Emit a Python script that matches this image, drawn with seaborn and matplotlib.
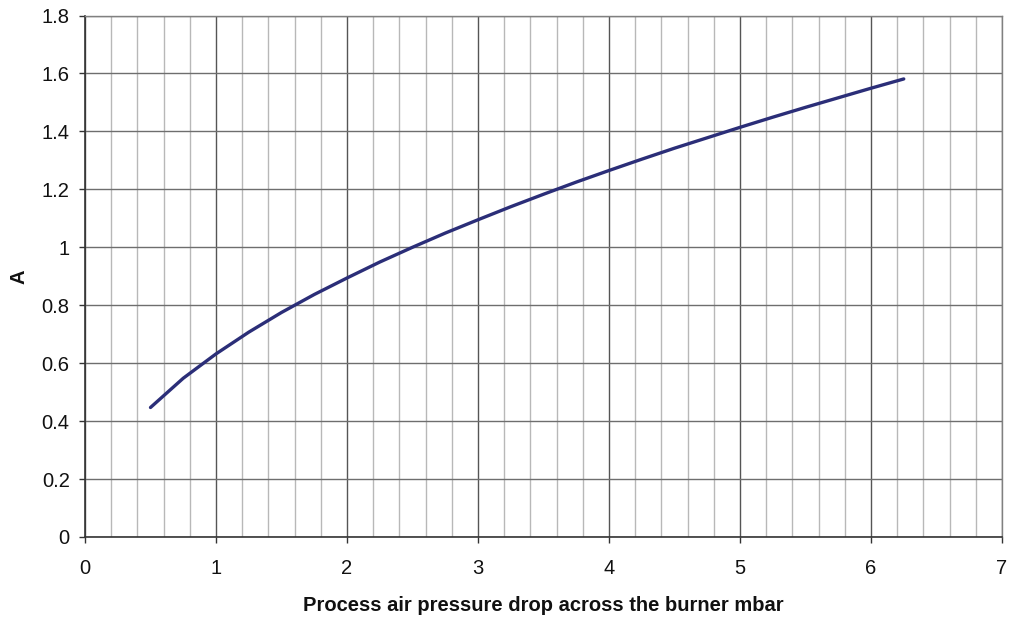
import matplotlib
matplotlib.use("Agg")
import matplotlib.pyplot as plt
import seaborn as sns
import pandas as pd
from matplotlib.ticker import MultipleLocator

pressure_drop = [0.5, 0.75, 1.0, 1.25, 1.5, 1.75, 2.0, 2.25, 2.5, 2.75, 3.0, 3.25,
                 3.5, 3.75, 4.0, 4.25, 4.5, 4.75, 5.0, 5.25, 5.5, 5.75, 6.0, 6.25]
a_values = [0.447, 0.548, 0.632, 0.707, 0.775, 0.837, 0.894, 0.949, 1.0, 1.049,
            1.095, 1.140, 1.183, 1.225, 1.265, 1.304, 1.342, 1.378, 1.414, 1.449,
            1.483, 1.516, 1.549, 1.581]

x_ticks = [0, 1, 2, 3, 4, 5, 6, 7]
y_ticks = [0, 0.2, 0.4, 0.6, 0.8, 1.0, 1.2, 1.4, 1.6, 1.8]
y_tick_labels = ["0", "0.2", "0.4", "0.6", "0.8", "1", "1.2", "1.4", "1.6", "1.8"]

sns.set_theme(style="white")
plt.rcParams['font.family'] = ['Liberation Sans', 'DejaVu Sans']

df = pd.DataFrame({"dp": pressure_drop, "A": a_values})

fig = plt.figure(figsize=(10.09, 6.22), dpi=100)
ax = fig.add_axes([85 / 1009, 85 / 622, (1002 - 85) / 1009, (537 - 15.5) / 622])

# grid
ax.set_xlim(0, 7)
ax.set_ylim(0, 1.8)
ax.xaxis.set_minor_locator(MultipleLocator(0.2))
ax.grid(which="minor", axis="x", color="#b8b8b8", linewidth=1.0)
ax.grid(which="major", axis="x", color="#555555", linewidth=1.0)
ax.grid(which="major", axis="y", color="#6e6e6e", linewidth=1.0)
ax.set_axisbelow(True)

sns.lineplot(data=df, x="dp", y="A", ax=ax, color="#2b2e78", linewidth=2.4,
             legend=False, zorder=3)

ax.set_xticks(x_ticks)
ax.set_xticklabels([str(t) for t in x_ticks])
ax.set_yticks(y_ticks)
ax.set_yticklabels(y_tick_labels)
ax.tick_params(axis="both", which="major", direction="out", length=4, width=1,
               color="#333333", labelsize=14.5, labelcolor="#111111",
               bottom=True, left=True)
ax.tick_params(axis="y", pad=7)
ax.tick_params(axis="x", pad=12)
ax.tick_params(axis="x", which="minor", length=0)

for side in ["left", "bottom"]:
    ax.spines[side].set_color("#333333")
    ax.spines[side].set_linewidth(1.2)
for side in ["top", "right"]:
    ax.spines[side].set_color("#808080")
    ax.spines[side].set_linewidth(1.0)

ax.set_xlabel("Process air pressure drop across the burner mbar", fontsize=14.5,
              fontweight="bold", color="#111111")
ax.xaxis.set_label_coords(0.5, -0.113)
ax.set_ylabel("A", fontsize=14.5, fontweight="bold", color="#111111")
ax.yaxis.set_label_coords(-0.062, 0.5)

fig.savefig("out.png", dpi=100, facecolor="white")
